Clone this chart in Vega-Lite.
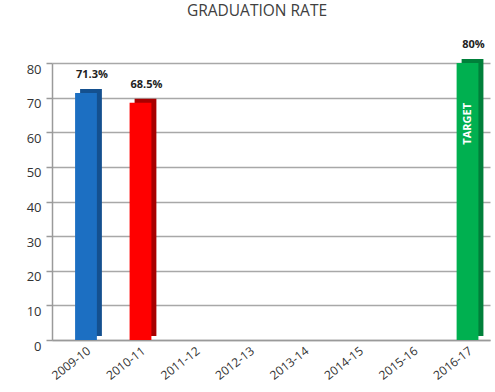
{
  "$schema": "https://vega.github.io/schema/vega-lite/v6.json",
  "width": 438,
  "height": 277,
  "autosize": "none",
  "padding": {"left": 52, "top": 63, "right": 5, "bottom": 52},
  "background": "white",
  "config": {"font": "Open Sans", "view": {"stroke": null}},
  "title": {"text": "GRADUATION RATE", "fontSize": 15.5, "font": "Open Sans", "fontWeight": "normal", "color": "#404040", "offset": 20, "dx": -14},
  "data": {"values": [
    {"year": "2009-10", "value": 71.3, "label": "71.3%", "note": ""},
    {"year": "2010-11", "value": 68.5, "label": "68.5%", "note": ""},
    {"year": "2011-12", "value": null, "label": "", "note": ""},
    {"year": "2012-13", "value": null, "label": "", "note": ""},
    {"year": "2013-14", "value": null, "label": "", "note": ""},
    {"year": "2014-15", "value": null, "label": "", "note": ""},
    {"year": "2015-16", "value": null, "label": "", "note": ""},
    {"year": "2016-17", "value": 80, "label": "80%", "note": "TARGET"}
  ]},
  "encoding": {
    "x": {"field": "year", "type": "ordinal", "sort": null,
      "scale": {"domain": ["2009-10", "2010-11", "2011-12", "2012-13", "2013-14", "2014-15", "2015-16", "2016-17"], "paddingInner": 0.6, "paddingOuter": 0.318, "align": 0.666},
      "axis": {"title": null, "labelAngle": -38, "labelFontSize": 12, "labelColor": "#333333", "ticks": false, "labelPadding": 5, "domainColor": "#9a9a9a", "domainWidth": 1.5}
    },
    "y": {"field": "value", "type": "quantitative",
      "scale": {"domain": [0, 80], "nice": false},
      "axis": {"title": null, "values": [0, 10, 20, 30, 40, 50, 60, 70, 80], "labelFontSize": 13, "labelColor": "#333333", "labelOffset": 6, "tickColor": "#9a9a9a", "tickSize": 6, "tickWidth": 1.5, "labelPadding": 5, "domainColor": "#9a9a9a", "domainWidth": 1.5, "grid": true, "gridColor": "#a8a8a8", "gridWidth": 1.5}
    }
  },
  "layer": [
    {
      "mark": {"type": "bar", "xOffset": 5, "yOffset": -4, "cornerRadius": 0},
      "encoding": {
        "color": {"field": "year", "type": "nominal", "legend": null,
          "scale": {"domain": ["2009-10", "2010-11", "2016-17"], "range": ["#14508f", "#a80000", "#00803a"]}}
      }
    },
    {
      "mark": {"type": "bar"},
      "encoding": {
        "color": {"field": "year", "type": "nominal", "legend": null,
          "scale": {"domain": ["2009-10", "2010-11", "2016-17"], "range": ["#1c6fc2", "#ff0000", "#00b050"]}}
      }
    },
    {
      "mark": {"type": "text", "baseline": "bottom", "dy": -13, "dx": 6, "fontWeight": "bold", "fontSize": 11, "color": "#222222"},
      "encoding": {"text": {"field": "label"}}
    },
    {
      "mark": {"type": "text", "angle": 270, "align": "right", "baseline": "middle", "dx": -40, "fontWeight": "bold", "fontSize": 11, "color": "white"},
      "encoding": {"text": {"field": "note"}}
    }
  ],
  "resolve": {"scale": {"color": "independent"}}
}
